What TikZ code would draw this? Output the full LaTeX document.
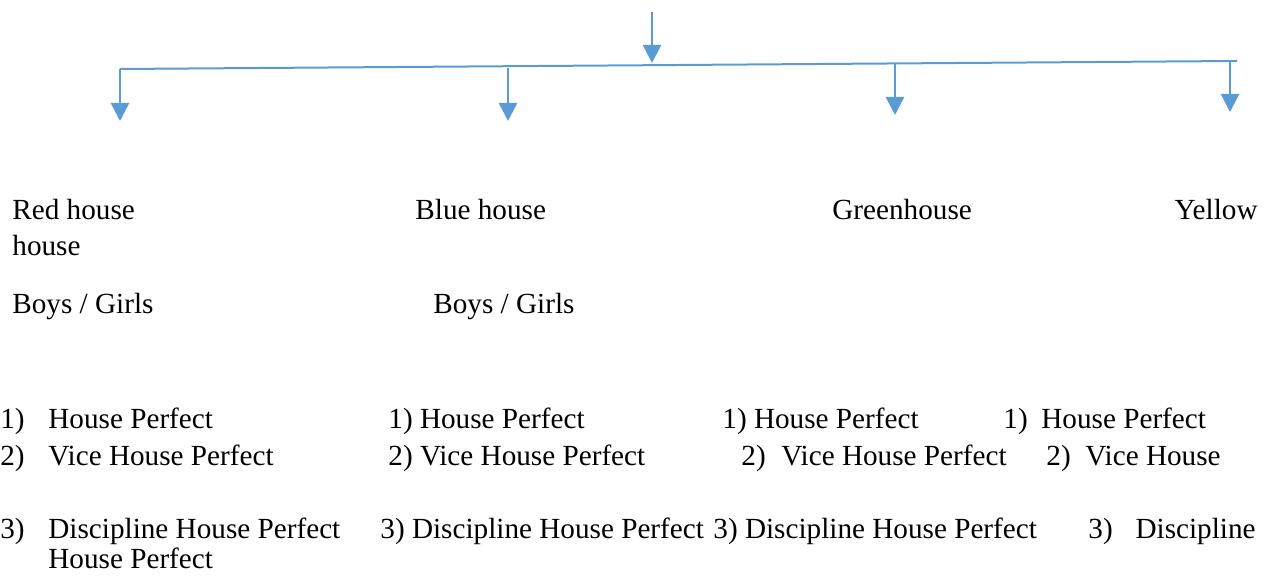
\documentclass[tikz,border=0pt]{standalone}
\usepackage{fontspec}
\setmainfont{Liberation Serif}
\usetikzlibrary{arrows.meta}
\definecolor{branchblue}{HTML}{5B9BD5}

\begin{document}
\begin{tikzpicture}[x=0.5pt,y=-0.5pt,
    txt/.style={anchor=base west,inner sep=0pt,font=\fontsize{14.6}{17}\selectfont},
    branch/.style={draw=branchblue,line width=1.25pt,-{Triangle[width=9pt,length=9pt]}}]
  \useasboundingbox (0,0) rectangle (1274,576); %Page frame

  \coordinate (src) at (652,12);        %Top of incoming arrow
  \coordinate (hub) at (652,63);
  \coordinate (redtop) at (120,69);     %Branch points on the bar
  \coordinate (bluetop) at (508,68);
  \coordinate (greentop) at (895,64);
  \coordinate (yellowtop) at (1230,61);
  \coordinate (barend) at (1237,61);
  \coordinate (redtip) at (120,121);    %Arrow tips
  \coordinate (bluetip) at (508,121);
  \coordinate (greentip) at (895,115);
  \coordinate (yellowtip) at (1230,112);

  \draw[branch] (src) -- (hub) ;        %Incoming arrow
  \draw[branchblue,line width=1pt] (redtop) -- (barend) ; %Bar
  \draw[branch] (redtop) -- (redtip) ;
  \draw[branch] (bluetop) -- (bluetip) ;
  \draw[branch] (greentop) -- (greentip) ;
  \draw[branch] (yellowtop) -- (yellowtip) ;

  \node[txt] (red) at (12,220) {Red house};   %House names
  \node[txt] (redmore) at (12,256) {house};
  \node[txt] (blue) at (415,220) {Blue house};
  \node[txt] (green) at (832,220) {Greenhouse};
  \node[txt,anchor=base east] (yellow) at (1258,220) {Yellow};

  \node[txt] (redbg) at (12,314) {Boys / Girls};
  \node[txt] (bluebg) at (433,314) {Boys / Girls};

  % first column
  \node[txt] (rednoa) at (0,429) {1)};
  \node[txt] (reda) at (48,429) {House Perfect};
  \node[txt] (rednob) at (0,466) {2)};
  \node[txt] (redb) at (48,466) {Vice House Perfect};
  \node[txt] (rednoc) at (0,539) {3)};
  \node[txt] (redc) at (48,539) {Discipline House Perfect};
  \node[txt] (redcc) at (48,569) {House Perfect};

  % second column
  \node[txt] (bluea) at (388,429) {1) House Perfect};
  \node[txt] (blueb) at (388,466) {2) Vice House Perfect};
  \node[txt] (bluec) at (380,539) {3) Discipline House Perfect};

  % third column
  \node[txt] (greena) at (722,429) {1) House Perfect};
  \node[txt] (greennob) at (741,466) {2)};
  \node[txt] (greenb) at (781,466) {Vice House Perfect};
  \node[txt] (greenc) at (713,539) {3) Discipline House Perfect};

  % fourth column
  \node[txt] (yellownoa) at (1003,429) {1)};
  \node[txt] (yellowa) at (1041,429) {House Perfect};
  \node[txt] (yellownob) at (1046,466) {2)};
  \node[txt] (yellowb) at (1085,466) {Vice House};
  \node[txt] (yellownoc) at (1088,539) {3)};
  \node[txt,anchor=base east] (yellowc) at (1256,539) {Discipline};
\end{tikzpicture}
\end{document}
